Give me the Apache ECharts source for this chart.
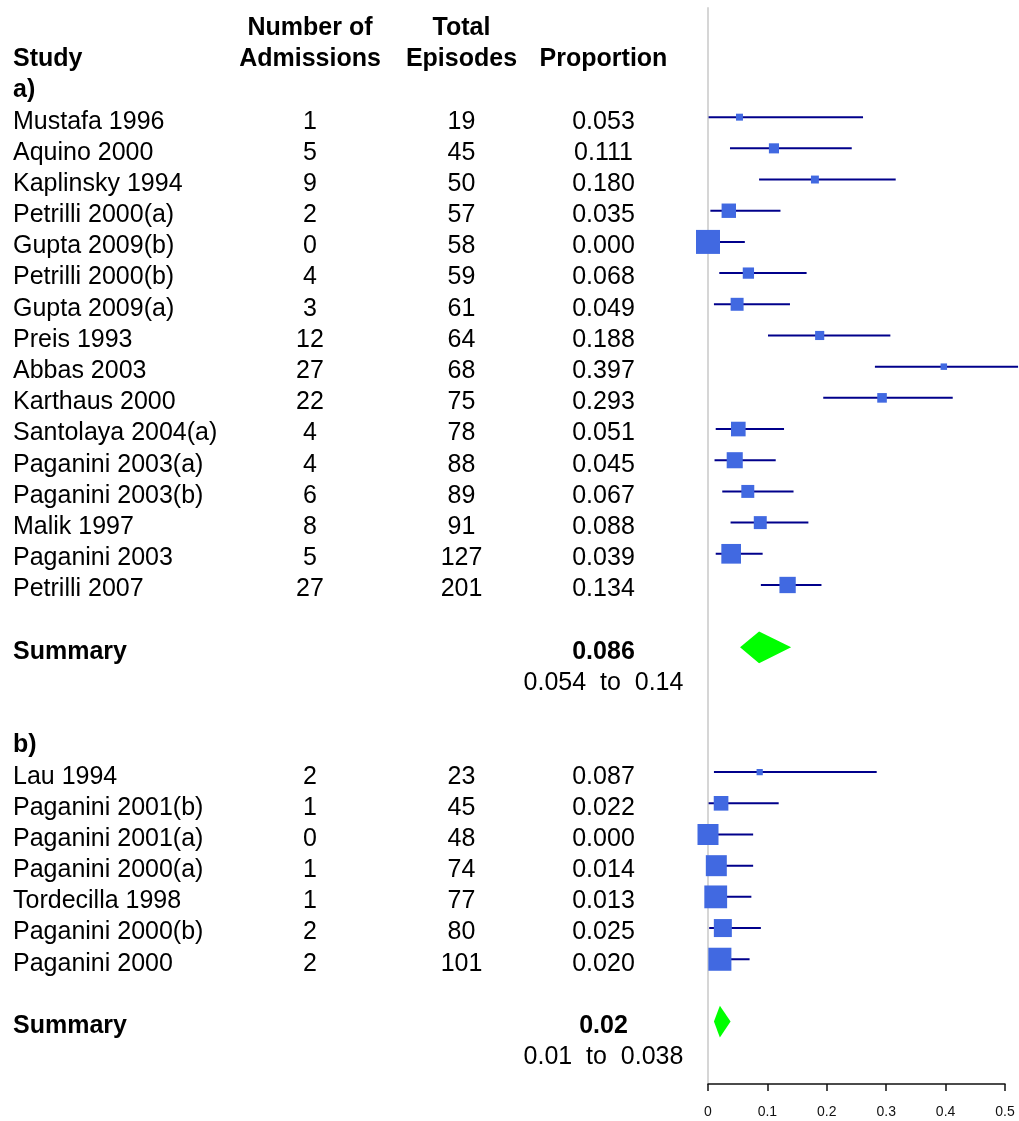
<!DOCTYPE html>
<html><head><meta charset="utf-8">
<script src="https://cdn.jsdelivr.net/npm/echarts@6/dist/echarts.min.js"></script>
<style>html,body{margin:0;padding:0;background:#fff}#c{width:1019px;height:1121px}</style>
</head><body><div id="c"></div>
<script>
// ---------- data ----------
const studiesA = ['Mustafa 1996','Aquino 2000','Kaplinsky 1994','Petrilli 2000(a)','Gupta 2009(b)','Petrilli 2000(b)','Gupta 2009(a)','Preis 1993','Abbas 2003','Karthaus 2000','Santolaya 2004(a)','Paganini 2003(a)','Paganini 2003(b)','Malik 1997','Paganini 2003','Petrilli 2007'];
const admissionsA = [1,5,9,2,0,4,3,12,27,22,4,4,6,8,5,27];
const episodesA = [19,45,50,57,58,59,61,64,68,75,78,88,89,91,127,201];
const proportionA = [0.053,0.111,0.180,0.035,0.000,0.068,0.049,0.188,0.397,0.293,0.051,0.045,0.067,0.088,0.039,0.134];
const lowerA = [0.001,0.037,0.086,0.004,0.000,0.019,0.010,0.101,0.281,0.194,0.013,0.011,0.024,0.038,0.013,0.089];
const upperA = [0.261,0.242,0.316,0.122,0.062,0.166,0.138,0.307,0.522,0.412,0.128,0.114,0.144,0.169,0.092,0.191];
const weightA = [0.29,0.42,0.33,0.60,1.00,0.47,0.54,0.38,0.27,0.40,0.61,0.67,0.54,0.54,0.82,0.68];

const studiesB = ['Lau 1994','Paganini 2001(b)','Paganini 2001(a)','Paganini 2000(a)','Tordecilla 1998','Paganini 2000(b)','Paganini 2000'];
const admissionsB = [2,1,0,1,1,2,2];
const episodesB = [23,45,48,74,77,80,101];
const proportionB = [0.087,0.022,0.000,0.014,0.013,0.025,0.020];
const lowerB = [0.010,0.001,0.000,0.000,0.000,0.002,0.002];
const upperB = [0.284,0.119,0.076,0.076,0.073,0.089,0.070];
const weightB = [0.26,0.61,0.875,0.875,0.95,0.75,0.96];

const summaryEst = [0.086, 0.02];
const summaryLower = [0.054, 0.01];
const summaryUpper = [0.14, 0.038];
const groupLabels = ['a)', 'b)'];

const xTicks = [0, 0.1, 0.2, 0.3, 0.4, 0.5];

// ---------- layout ----------
const FONT = '"Liberation Sans", Arial, sans-serif';
const FS = 25;
const COLS = [
  {x: 13, align: 'left'},
  {x: 310, align: 'center'},
  {x: 461.5, align: 'center'},
  {x: 603.5, align: 'center'}
];
const MAX_BOX = 24;
const TEXT_DY = 4.5;

// ---------- build rows ----------
const tableRows = [];
const forest = [];
function addRow(row, cells) { tableRows.push({row, cells}); }

addRow(-2, [null, {t: 'Number of', b: true}, {t: 'Total', b: true}, null]);
addRow(-1, [{t: 'Study', b: true}, {t: 'Admissions', b: true}, {t: 'Episodes', b: true}, {t: 'Proportion', b: true}]);

const groups = [
  [studiesA, admissionsA, episodesA, proportionA, lowerA, upperA, weightA],
  [studiesB, admissionsB, episodesB, proportionB, lowerB, upperB, weightB]
];
let r = 0;
groups.forEach((g, gi) => {
  const [st, ad, ep, pr, lo, hi, w] = g;
  addRow(r, [{t: groupLabels[gi], b: true}, null, null, null]);
  st.forEach((name, i) => {
    const row = r + 1 + i;
    addRow(row, [{t: name}, {t: String(ad[i])}, {t: String(ep[i])}, {t: pr[i].toFixed(3)}]);
    forest.push([row, pr[i], lo[i], hi[i], w[i], 0]);
  });
  const sRow = r + st.length + 2;
  addRow(sRow, [{t: 'Summary', b: true}, null, null, {t: String(summaryEst[gi]), b: true}]);
  addRow(sRow + 1, [null, null, null, {t: String(summaryLower[gi]) + '  to  ' + String(summaryUpper[gi])}]);
  forest.push([sRow, summaryEst[gi], summaryLower[gi], summaryUpper[gi], 0, 1]);
  r = sRow + 3;
});

// ---------- chart ----------
const chart = echarts.init(document.getElementById('c'), null, {renderer: 'canvas'});
chart.setOption({
  animation: false,
  backgroundColor: '#fff',
  grid: {left: 708, width: 297, top: 8, height: 1076, containLabel: false, outerBoundsMode: 'none'},
  xAxis: {
    type: 'value', min: xTicks[0], max: xTicks[xTicks.length - 1], interval: 0.1,
    axisLine: {show: true, onZero: false, lineStyle: {color: '#111', width: 1.5}},
    axisTick: {show: true, length: 7, lineStyle: {color: '#111', width: 1.5}},
    axisLabel: {fontSize: 14, color: '#111', margin: 21, fontFamily: FONT},
    splitLine: {show: false}
  },
  yAxis: {
    type: 'value', inverse: true, min: -2.5, max: 32,
    axisLine: {show: true, lineStyle: {color: '#d6d6d6', width: 2}},
    axisTick: {show: false}, axisLabel: {show: false}, splitLine: {show: false}
  },
  series: [
    {
      type: 'custom', clip: false, silent: true,
      data: tableRows.map(t => [0, t.row]),
      encode: {x: 0, y: 1},
      renderItem: function (params, api) {
        const y = api.coord([0, api.value(1)])[1] + TEXT_DY;
        const cells = tableRows[params.dataIndex].cells;
        const children = [];
        cells.forEach((c, ci) => {
          if (!c) return;
          children.push({
            type: 'text',
            x: COLS[ci].x, y: y,
            style: {
              text: c.t, fill: '#000', fontSize: FS, fontFamily: FONT,
              fontWeight: c.b ? 'bold' : 'normal',
              align: COLS[ci].align, verticalAlign: 'middle'
            }
          });
        });
        return {type: 'group', children};
      }
    },
    {
      type: 'custom', clip: false, silent: true,
      data: forest,
      encode: {x: [1, 2, 3], y: 0},
      renderItem: function (params, api) {
        const row = api.value(0), est = api.value(1), lo = api.value(2), hi = api.value(3);
        const w = api.value(4), kind = api.value(5);
        const pE = api.coord([est, row]);
        const pL = api.coord([lo, row]);
        const pH = api.coord([hi, row]);
        const rowH = api.size([0, 1])[1];
        if (kind === 1) {
          const h = rowH * 1.02 / 2;
          return {
            type: 'polygon',
            shape: {points: [[pL[0], pE[1]], [pE[0], pE[1] - h], [pH[0], pE[1]], [pE[0], pE[1] + h]]},
            style: {fill: '#00FF00', stroke: null}
          };
        }
        const s = w * MAX_BOX;
        return {
          type: 'group',
          children: [
            {type: 'line', shape: {x1: pL[0], y1: pE[1], x2: pH[0], y2: pE[1]},
             style: {stroke: '#00008B', lineWidth: 2}},
            {type: 'rect', shape: {x: pE[0] - s / 2, y: pE[1] - s / 2, width: s, height: s},
             style: {fill: '#4169E1'}}
          ]
        };
      }
    }
  ]
});
</script>
</body></html>
